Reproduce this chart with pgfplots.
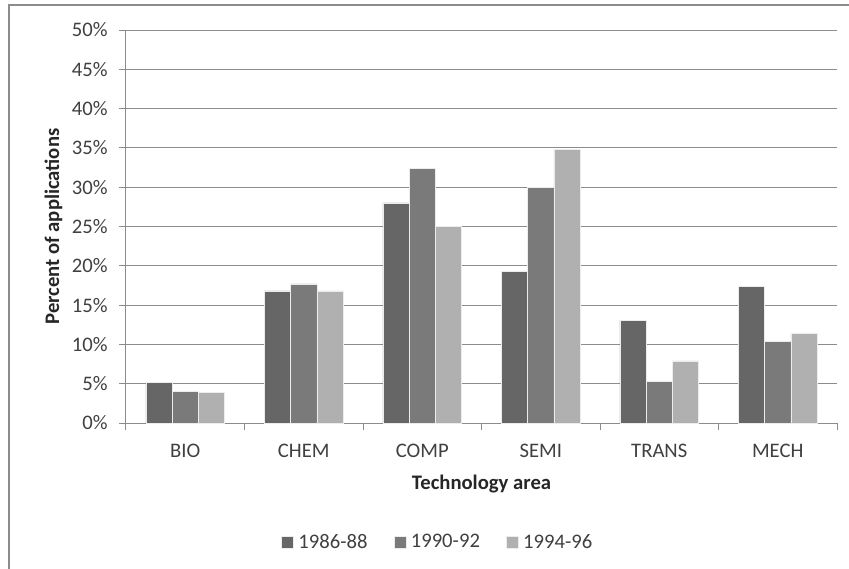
\documentclass[border=0pt]{standalone}
\usepackage{fontspec}
\setmainfont{Carlito}
\usepackage{pgfplots}
\pgfplotsset{compat=1.18}

\definecolor{barA}{HTML}{666666}
\definecolor{barB}{HTML}{7A7A7A}
\definecolor{barC}{HTML}{B0B0B0}
\definecolor{gridc}{HTML}{8C8C8C}
\definecolor{txt}{HTML}{404040}
\newcommand{\cfont}{\fontsize{15.5}{18}\selectfont}

\begin{document}
\begin{tikzpicture}
\begin{axis}[
    at={(0pt,0pt)}, anchor=south west,
    scale only axis,
    width=533.25pt, height=294.75pt,
    xmin=-0.5, xmax=5.5,
    ymin=0, ymax=50,
    axis x line*=bottom,
    axis y line*=left,
    axis line style={gridc, line width=0.75pt, -},
    ymajorgrids,
    grid style={gridc, line width=0.75pt},
    tick align=outside,
    major tick length=5.25pt,
    tick style={gridc, line width=0.75pt},
    ytick={0,5,...,50},
    yticklabel={\pgfmathprintnumber{\tick}\%},
    /pgf/number format/assume math mode=true,
    y tick label style={txt, font=\cfont, xshift=-5pt},
    xtick={-0.5,0.5,...,5.5},
    xticklabels={BIO,CHEM,COMP,SEMI,TRANS,MECH,{}},
    x tick label style={txt, font=\cfont, xshift=44.44pt, yshift=-7pt},
    xlabel={\textbf{Technology area}},
    ylabel={\textbf{Percent of applications}},
    label style={font=\cfont, text=black!85},
    xlabel style={at={(axis description cs:0.5,-0.155)}, anchor=center},
    ylabel style={at={(axis description cs:-0.102,0.5)}, anchor=center},
    legend columns=3,
    legend style={at={(0.439,-0.303)}, anchor=center, draw=none, fill=none,
        text=txt, font=\cfont,
        /tikz/every odd column/.append style={column sep=1.5pt},
        /tikz/every even column/.append style={column sep=17.5pt}},
    legend image code/.code={\fill[#1] (0pt,-4.5pt) rectangle (9pt,4.5pt);},
]
\addplot[ybar, bar width=0.222, bar shift=-0.222, fill=barA, draw=white!85!gray, line width=0.4pt]
    coordinates {(0,5.2) (1,16.8) (2,28.0) (3,19.3) (4,13.1) (5,17.4)};
\addplot[ybar, bar width=0.222, bar shift=0, fill=barB, draw=white!85!gray, line width=0.4pt]
    coordinates {(0,4.0) (1,17.7) (2,32.4) (3,30.0) (4,5.3) (5,10.4)};
\addplot[ybar, bar width=0.222, bar shift=0.222, fill=barC, draw=white!85!gray, line width=0.4pt]
    coordinates {(0,3.9) (1,16.8) (2,25.0) (3,34.8) (4,7.9) (5,11.4)};
\legend{1986-88,1990-92,1994-96}
\end{axis}
% outer chart frame (right and bottom edges lie outside the page)
\draw[gridc, line width=0.9pt] (-87.75pt,313.5pt) rectangle (600pt,-150pt);
\pgfresetboundingbox
\useasboundingbox (-94.5pt,-108.75pt) rectangle ++(636.75pt,426pt);
\end{tikzpicture}
\end{document}
